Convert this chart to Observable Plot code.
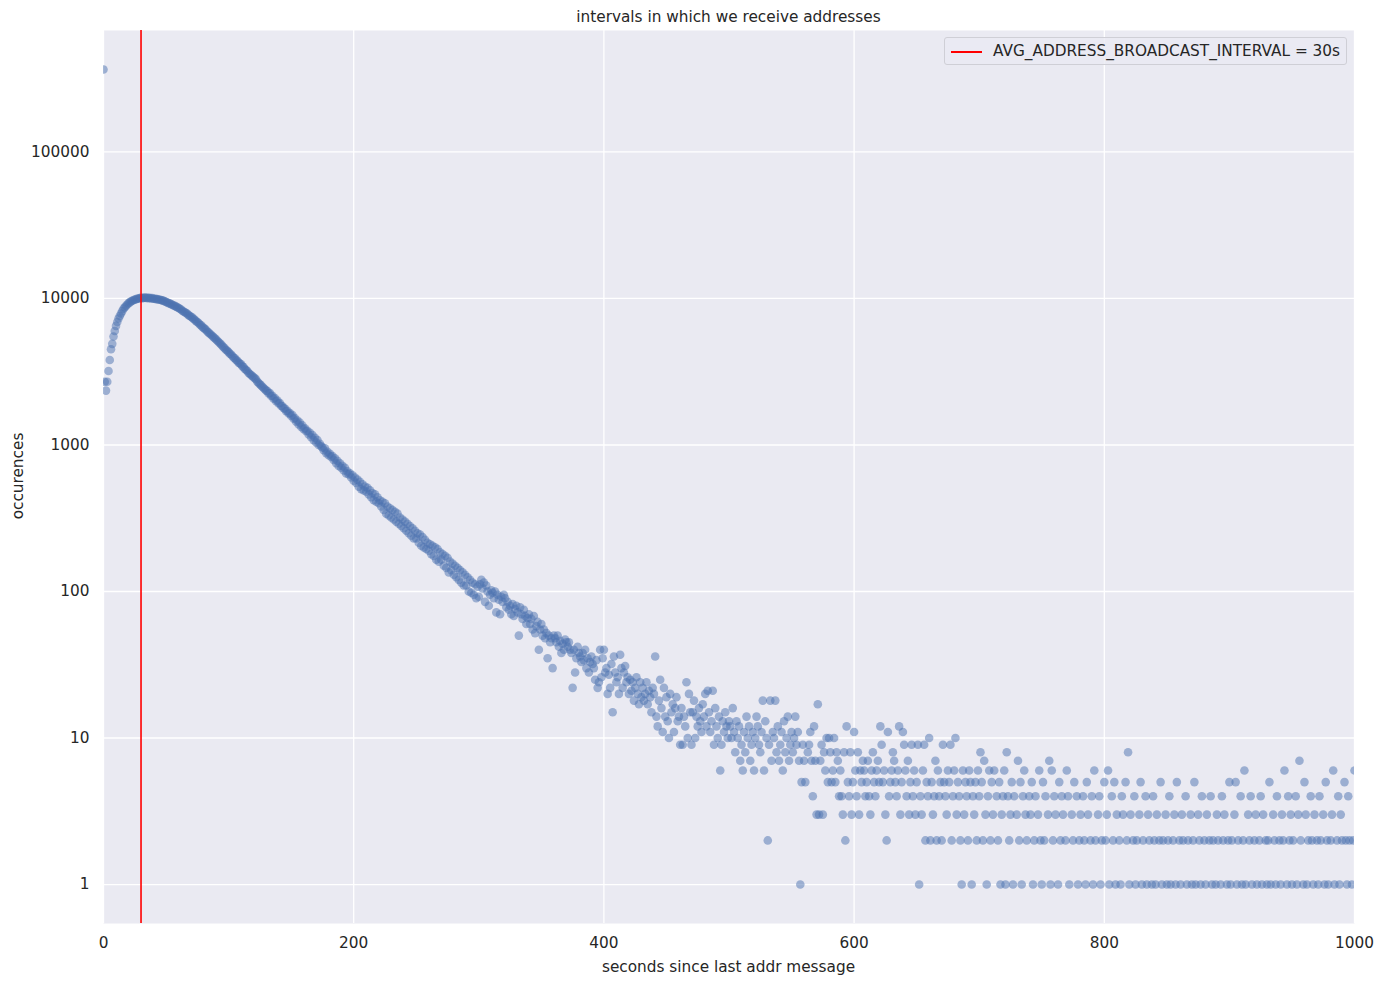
<!DOCTYPE html>
<html>
<head>
<meta charset="utf-8">
<script src="https://cdn.jsdelivr.net/npm/d3@7"></script>
<script src="https://cdn.jsdelivr.net/npm/@observablehq/plot@0.6"></script>
<style>
  html, body { margin: 0; padding: 0; background: #ffffff; }
  #wrap { position: relative; width: 1384px; height: 983px; font-family: "DejaVu Sans", sans-serif; color: #262626; }
  #chart { position: absolute; left: 0; top: 0; }
  .title { position: absolute; top: 8px; left: 103px; width: 1251px; text-align: center; font-size: 15.3px; }
  .xlabel { position: absolute; top: 958px; left: 103px; width: 1251px; text-align: center; font-size: 15.3px; }
  .ylabel { position: absolute; left: 18px; top: 476px; transform: translate(-50%, -50%) rotate(-90deg); font-size: 15.3px; white-space: nowrap; }
  .legend { position: absolute; left: 944px; top: 37px; width: 401px; height: 26px; border: 1px solid #cfcfd6; border-radius: 3px; background: rgba(234,234,242,0.8); font-size: 15.3px; }
  .legend .swatch { position: absolute; left: 6px; top: 13px; width: 31px; height: 0; border-top: 2px solid red; }
  .legend .label { position: absolute; left: 48px; top: 4px; white-space: nowrap; }
</style>
</head>
<body>
<div id="wrap">
  <div id="chart"></div>
  <div class="title">intervals in which we receive addresses</div>
  <div class="xlabel">seconds since last addr message</div>
  <div class="ylabel">occurences</div>
  <div class="legend"><div class="swatch"></div><div class="label">AVG_ADDRESS_BROADCAST_INTERVAL = 30s</div></div>
</div>
<script>
// tick labels
const xTicks = [0, 200, 400, 600, 800, 1000];
const yTicks = [1, 10, 100, 1000, 10000, 100000];
const avgBroadcastInterval = 30;

const counts_000_040 = [365000, 2700, 2350, 2700, 3200, 3800, 4500, 4900, 5500, 6000,
  6500, 6900, 7300, 7600, 7900, 8200, 8500, 8700, 8900, 9100,
  9300, 9400, 9550, 9650, 9750, 9800, 9900, 9950, 10000, 10050,
  10100, 10050, 10100, 10150, 10100, 10100, 10050, 10100, 10000, 10050, 9950];
const counts_041_100 = [9950, 9900, 9900, 9850, 9800, 9750, 9700, 9650, 9550, 9450,
  9380, 9300, 9250, 9150, 9050, 8950, 8900, 8800, 8700, 8600,
  8500, 8400, 8250, 8150, 8050, 7950, 7850, 7700, 7600, 7500,
  7400, 7250, 7150, 7000, 6900, 6800, 6650, 6550, 6400, 6300,
  6200, 6100, 5950, 5850, 5750, 5650, 5550, 5450, 5350, 5250,
  5150, 5050, 4950, 4850, 4750, 4650, 4550, 4450, 4400, 4300];
const counts_101_200 = [4200, 4150, 4050, 3950, 3900, 3800, 3750, 3650, 3600, 3550,
  3450, 3400, 3300, 3250, 3200, 3100, 3050, 3000, 2950, 2900,
  2850, 2800, 2700, 2650, 2600, 2550, 2500, 2450, 2400, 2350,
  2330, 2250, 2260, 2160, 2170, 2070, 2090, 1990, 2010, 1920,
  1930, 1850, 1840, 1780, 1770, 1700, 1710, 1640, 1650, 1580,
  1600, 1510, 1530, 1440, 1470, 1380, 1420, 1330, 1360, 1280,
  1300, 1240, 1250, 1180, 1210, 1130, 1170, 1080, 1120, 1040,
  1080, 1000, 1020, 980, 960, 920, 950, 880, 900, 850,
  870, 830, 840, 790, 810, 750, 780, 720, 750, 700,
  720, 670, 700, 640, 660, 630, 640, 600, 620, 570];
const counts_201_300 = [600, 550, 580, 520, 560, 500, 540, 490, 520, 480,
  510, 460, 490, 440, 470, 420, 460, 410, 440, 400,
  420, 380, 410, 360, 400, 340, 380, 330, 370, 320,
  360, 310, 350, 300, 340, 290, 320, 280, 310, 270,
  300, 260, 290, 250, 280, 240, 270, 230, 260, 230,
  250, 215, 245, 205, 235, 200, 225, 195, 215, 190,
  210, 180, 205, 175, 200, 165, 195, 160, 185, 165,
  180, 150, 175, 145, 170, 135, 160, 140, 155, 130,
  150, 125, 145, 120, 140, 115, 135, 110, 130, 110,
  125, 100, 120, 98, 115, 95, 112, 90, 108, 92];
const counts_301_400 = [112, 120, 105, 115, 85, 110, 100, 80, 95, 102,
  98, 90, 100, 72, 95, 88, 70, 92, 85, 95,
  90, 78, 85, 75, 80, 70, 82, 68, 76, 80,
  72, 50, 78, 70, 65, 75, 68, 60, 66, 70,
  60, 65, 55, 68, 52, 58, 62, 40, 55, 60,
  50, 55, 48, 52, 35, 50, 45, 48, 30, 50,
  48, 45, 50, 42, 46, 38, 44, 40, 47, 45,
  42, 45, 40, 38, 22, 40, 28, 35, 42, 38,
  36, 33, 38, 34, 40, 30, 35, 28, 33, 36,
  32, 30, 25, 34, 22, 24, 40, 26, 35, 40];
const counts_401_560 = [28, 30, 20, 27, 22, 32, 15, 36, 28, 24,
  26, 20, 37, 30, 22, 28, 31, 24, 26, 20,
  25, 21, 24, 18, 22, 26, 20, 17, 24, 19,
  22, 18, 20, 24, 17, 21, 19, 15, 22, 20,
  36, 14, 12, 18, 25, 16, 11, 22, 14, 19,
  13, 10, 20, 15, 17, 11, 16, 19, 13, 14,
  9, 16, 9, 14, 12, 24, 10, 20, 15, 9,
  15, 18, 10, 14, 12, 16, 13, 11, 17, 14,
  20, 12, 21, 15, 11, 13, 21, 9, 16, 12,
  10, 14, 6, 9, 13, 11, 15, 12, 10, 13,
  12, 10, 16, 11, 8, 13, 10, 12, 7, 9,
  6, 11, 8, 14, 10, 12, 7, 9, 11, 6,
  10, 14, 12, 9, 8, 11, 18, 6, 13, 10,
  2, 9, 18, 7, 11, 10, 18, 8, 12, 7,
  9, 11, 6, 13, 8, 10, 14, 7, 9, 11,
  8, 10, 14, 9, 11, 7, 1, 5, 9, 7];
const counts_561_700 = [5, 0, 8, 9, 11, 7, 4, 12, 7, 3,
  17, 3, 7, 9, 3, 8, 6, 10, 5, 10,
  8, 5, 6, 10, 5, 8, 7, 4, 6, 4,
  3, 8, 2, 12, 5, 4, 8, 3, 5, 11,
  6, 4, 8, 3, 6, 5, 7, 6, 4, 5,
  7, 4, 3, 6, 8, 5, 4, 6, 7, 5,
  12, 9, 5, 6, 3, 2, 11, 4, 5, 6,
  8, 7, 5, 4, 6, 12, 3, 5, 11, 9,
  6, 4, 7, 3, 5, 9, 4, 6, 3, 5,
  9, 1, 4, 3, 6, 9, 2, 5, 4, 10,
  2, 5, 3, 4, 7, 2, 6, 4, 5, 2,
  9, 5, 4, 3, 6, 5, 9, 2, 4, 6,
  10, 3, 5, 4, 2, 1, 6, 3, 5, 4,
  2, 6, 5, 1, 4, 3, 5, 2, 6, 4];
const counts_701_1000 = [8, 5, 2, 7, 3, 1, 4, 6, 2, 5,
  3, 6, 0, 4, 2, 5, 1, 3, 4, 6,
  1, 8, 4, 2, 3, 5, 1, 4, 0, 3,
  7, 2, 5, 1, 4, 6, 3, 2, 0, 4,
  3, 5, 1, 2, 4, 0, 3, 6, 2, 1,
  5, 2, 4, 0, 3, 7, 1, 6, 2, 4,
  3, 0, 1, 5, 2, 4, 3, 0, 2, 6,
  4, 1, 0, 3, 2, 5, 0, 4, 1, 2,
  3, 0, 4, 2, 1, 5, 3, 0, 2, 4,
  1, 6, 2, 0, 3, 4, 1, 2, 0, 5,
  2, 3, 6, 1, 0, 4, 2, 5, 1, 3,
  0, 2, 1, 4, 3, 0, 5, 2, 8, 1,
  3, 0, 2, 4, 1, 2, 0, 3, 5, 1,
  2, 0, 4, 1, 3, 2, 0, 1, 4, 2,
  1, 3, 0, 2, 5, 1, 2, 0, 3, 1,
  2, 4, 1, 0, 2, 3, 1, 5, 0, 2,
  1, 3, 2, 0, 4, 1, 2, 0, 3, 1,
  2, 5, 1, 0, 3, 2, 1, 4, 0, 2,
  1, 3, 0, 2, 4, 1, 2, 0, 1, 3,
  2, 0, 1, 4, 2, 3, 0, 1, 2, 5,
  1, 2, 0, 3, 5, 1, 2, 0, 4, 1,
  2, 6, 1, 0, 3, 2, 4, 1, 0, 2,
  3, 1, 0, 2, 4, 1, 3, 0, 2, 1,
  2, 5, 1, 0, 3, 2, 1, 4, 0, 2,
  1, 3, 2, 6, 0, 1, 4, 2, 3, 1,
  2, 0, 4, 1, 3, 7, 2, 0, 1, 5,
  3, 1, 2, 0, 4, 2, 1, 3, 0, 2,
  1, 4, 2, 0, 3, 1, 5, 2, 1, 0,
  2, 3, 6, 1, 0, 2, 4, 1, 3, 2,
  0, 5, 2, 1, 4, 2, 0, 1, 2, 6];

const segments = [
  {start: 0, counts: counts_000_040},
  {start: 41, counts: counts_041_100},
  {start: 101, counts: counts_101_200},
  {start: 201, counts: counts_201_300},
  {start: 301, counts: counts_301_400},
  {start: 401, counts: counts_401_560},
  {start: 561, counts: counts_561_700},
  {start: 701, counts: counts_701_1000}
];
const data = [];
for (const seg of segments) {
  seg.counts.forEach((n, i) => { if (n > 0) data.push({s: seg.start + i, n}); });
}

const chart = Plot.plot({
  width: 1384,
  height: 983,
  marginLeft: 103,
  marginRight: 30,
  marginTop: 30,
  marginBottom: 60,
  style: {fontFamily: "DejaVu Sans", color: "#262626", background: "white", overflow: "visible"},
  x: {domain: [0, 1000]},
  y: {type: "log", domain: [0.542, 674500]},
  marks: [
    Plot.frame({fill: "#EAEAF2"}),
    Plot.gridX({ticks: xTicks, stroke: "white", strokeOpacity: 1, strokeWidth: 1.3}),
    Plot.gridY({ticks: yTicks, stroke: "white", strokeOpacity: 1, strokeWidth: 1.3}),
    Plot.axisX({ticks: xTicks, tickSize: 0, tickPadding: 14, fontSize: 15.3, label: null, fill: "#262626", tickFormat: d => String(d)}),
    Plot.axisY({ticks: yTicks, tickSize: 0, tickPadding: 14, fontSize: 15.3, label: null, fill: "#262626", tickFormat: d => String(d)}),
    Plot.dot(data, {x: "s", y: "n", r: 4.3, fill: "#4C72B0", fillOpacity: 0.5, clip: true}),
    Plot.ruleX([avgBroadcastInterval], {stroke: "red", strokeWidth: 1.6})
  ]
});
document.getElementById("chart").appendChild(chart);
</script>
</body>
</html>
